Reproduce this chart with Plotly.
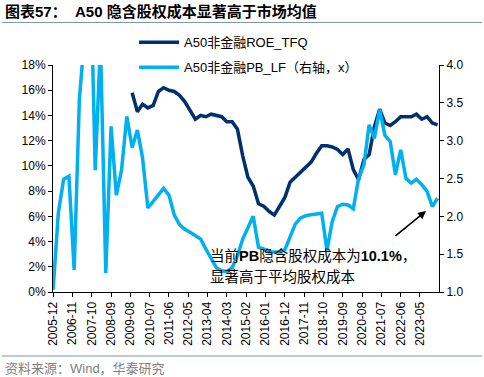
import pandas as pd
import plotly.graph_objects as go

# quarterly observation dates (2005-12 .. 2024-03)
pb_dates = pd.date_range("2005-12-01", "2024-03-01", freq="3MS")
roe_dates = pd.date_range("2009-09-01", "2024-03-01", freq="3MS")

pb_values = [
    1.03, 2.04, 2.49, 2.53, 1.29, 3.54, 4.41, 5.60, 2.61, 4.30,
    1.25, 3.19, 2.28, 2.61, 3.32, 2.91, 3.14, 2.77, 2.11, 2.20,
    2.30, 2.37, 2.28, 2.02, 1.89, 1.83, 1.79, 1.74, 1.70, 1.57,
    1.44, 1.32, 1.28, 1.27, 1.32, 1.48, 1.70, 1.86, 2.00, 1.59,
    1.57, 1.53, 1.53, 1.53, 1.56, 1.72, 1.90, 1.98, 2.01, 2.02,
    2.03, 2.04, 1.55, 1.93, 2.13, 2.16, 2.15, 2.10, 2.50, 2.68,
    3.21, 3.03, 3.41, 3.07, 2.99, 2.55, 2.88, 2.50, 2.44, 2.49,
    2.42, 2.33, 2.13, 2.24,
]

roe_values = [
    15.8, 14.3, 14.9, 14.6, 14.8, 15.9, 16.2, 16.0, 15.9, 15.6,
    15.1, 14.4, 13.7, 14.0, 13.9, 14.1, 14.0, 13.9, 13.5, 13.5,
    12.9, 10.8, 9.1, 8.4, 7.0, 6.8, 6.4, 6.1, 6.8, 7.5,
    8.7, 9.1, 9.5, 9.9, 10.3, 11.0, 11.6, 11.6, 11.5, 11.3,
    10.9, 11.35, 9.7, 8.9, 10.5, 10.9, 13.1, 14.5, 13.4, 13.2,
    13.5, 13.9, 13.9, 13.9, 14.1, 13.7, 13.9, 13.4, 13.25,
]

tick_labels = [
    "2005-12", "2006-11", "2007-10", "2008-09", "2009-08", "2010-07",
    "2011-06", "2012-05", "2013-04", "2014-03", "2015-02", "2016-01",
    "2016-12", "2017-11", "2018-10", "2019-09", "2020-08", "2021-07",
    "2022-06", "2023-05",
]
tick_vals = [s + "-01" for s in tick_labels]

roe_name = "A50非金融ROE_TFQ"
pb_name = "A50非金融PB_LF（右轴，x）"

DARK = "#00306e"
LIGHT = "#00b0f0"
TXT = "Liberation Sans, Arial, Noto Sans CJK SC, sans-serif"
CJK = "Liberation Sans, Noto Sans CJK SC, sans-serif"

fig = go.Figure()
fig.add_trace(go.Scatter(
    x=roe_dates, y=roe_values, name=roe_name, mode="lines",
    line=dict(color=DARK, width=3.5), legendgroup="a", yaxis="y",
))
fig.add_trace(go.Scatter(
    x=pb_dates, y=pb_values, name=pb_name, mode="lines",
    line=dict(color=LIGHT, width=3.5), legendgroup="b", yaxis="y2",
))

fig.update_layout(
    width=484, height=377,
    margin=dict(l=53, r=45, t=65, b=85, autoexpand=False),
    paper_bgcolor="white", plot_bgcolor="white",
    font=dict(family=CJK, size=12, color="black"),
    showlegend=True,
    legend=dict(
        x=0.21, y=1.166, xanchor="left", yanchor="top",
        bgcolor="rgba(0,0,0,0)", font=dict(size=13, family=CJK),
        tracegroupgap=5, itemwidth=40,
    ),
    xaxis=dict(
        type="date", range=["2005-11-29", "2024-03-26"],
        tickvals=tick_vals, ticktext=tick_labels, tickangle=-90,
        showgrid=False, zeroline=False,
        showline=True, linecolor="black", linewidth=1,
        ticks="outside", ticklen=4, tickcolor="black",
        tickfont=dict(size=12, family=TXT),
    ),
    yaxis=dict(
        range=[0, 18], dtick=2, ticksuffix="%",
        showgrid=False, zeroline=False,
        showline=True, linecolor="black", linewidth=1,
        ticks="outside", ticklen=4, tickcolor="black",
        tickfont=dict(size=12, family=TXT),
    ),
    yaxis2=dict(
        range=[1, 4], dtick=0.5, tickformat=".1f",
        overlaying="y", side="right",
        showgrid=False, zeroline=False,
        showline=True, linecolor="black", linewidth=1,
        ticks="outside", ticklen=4, tickcolor="black",
        tickfont=dict(size=12, family=TXT),
    ),
)

def px_x(px):
    return (px - 53) / 386.0

def px_y(py):
    return (292 - py) / 227.0

annotations = [
    dict(text="<b>图表57：  A50 隐含股权成本显著高于市场均值</b>",
         xref="paper", yref="paper", x=px_x(3), y=px_y(12),
         xanchor="left", yanchor="middle", showarrow=False,
         font=dict(size=15, family=CJK, color="black")),
    dict(text="资料来源：Wind，华泰研究",
         xref="paper", yref="paper", x=px_x(3), y=px_y(368),
         xanchor="left", yanchor="middle", showarrow=False,
         font=dict(size=13, family=CJK, color="#808080")),
    dict(text="当前<b>PB</b>隐含股权成本为<b>10.1%</b>，",
         xref="paper", yref="paper", x=px_x(208), y=px_y(256),
         xanchor="left", yanchor="middle", showarrow=False,
         font=dict(size=14.5, family=CJK, color="black")),
    dict(text="显著高于平均股权成本",
         xref="paper", yref="paper", x=px_x(208), y=px_y(277),
         xanchor="left", yanchor="middle", showarrow=False,
         font=dict(size=14.5, family=CJK, color="black")),
    dict(text="", xref="paper", yref="paper",
         x=px_x(426), y=px_y(211), ax=-32, ay=26,
         showarrow=True, arrowhead=2, arrowsize=1, arrowwidth=1.6,
         arrowcolor="black"),
]
fig.update_layout(annotations=annotations)

fig.update_layout(shapes=[
    dict(type="line", xref="paper", yref="paper",
         x0=px_x(2), x1=px_x(482), y0=px_y(22.5), y1=px_y(22.5),
         line=dict(color="#7f95b5", width=1)),
    dict(type="line", xref="paper", yref="paper",
         x0=px_x(2), x1=px_x(482), y0=px_y(356), y1=px_y(356),
         line=dict(color="#7f95b5", width=1)),
])

fig.write_html(
    "out.html",
    config={"displayModeBar": False},
    post_script="document.body.style.margin='0';document.body.style.overflow='hidden';",
)
